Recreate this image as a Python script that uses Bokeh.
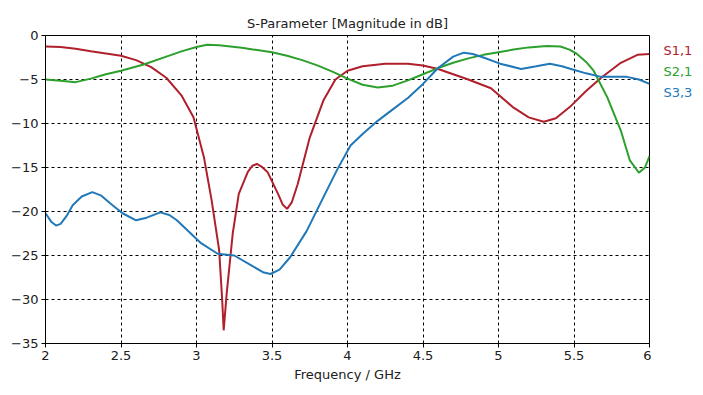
from bokeh.plotting import figure
from bokeh.models import FixedTicker, Range1d
from bokeh.layouts import row
from bokeh.core.properties import value
from bokeh.embed import file_html
from bokeh.resources import INLINE

title_text = "S-Parameter [Magnitude in dB]"
x_label = "Frequency / GHz"
x_ticks = [2, 2.5, 3, 3.5, 4, 4.5, 5, 5.5, 6]
x_tick_labels = ["2", "2.5", "3", "3.5", "4", "4.5", "5", "5.5", "6"]
y_ticks = [0, -5, -10, -15, -20, -25, -30, -35]

s11_f = [2.0, 2.1, 2.2, 2.3, 2.4, 2.5, 2.6, 2.7, 2.8, 2.9, 2.98, 3.05, 3.10, 3.15, 3.17, 3.18,
         3.20, 3.24, 3.28, 3.34, 3.37, 3.40, 3.43, 3.47, 3.54, 3.57, 3.60, 3.63, 3.67, 3.75,
         3.84, 3.92, 4.0, 4.1, 4.25, 4.4, 4.5, 4.6, 4.7, 4.8, 4.95, 5.1, 5.2, 5.30, 5.38,
         5.48, 5.58, 5.68, 5.81, 5.92, 6.0]
s11_db = [-1.25, -1.3, -1.5, -1.8, -2.05, -2.3, -2.8, -3.6, -4.8, -6.8, -9.3, -13.9, -18.7, -24.4,
          -30, -33.5, -29.3, -22.5, -18, -15.5, -14.8, -14.6, -14.9, -15.5, -18, -19.2, -19.7,
          -19.0, -16.9, -11.6, -7.4, -5.0, -4.0, -3.5, -3.2, -3.2, -3.4, -3.8, -4.4, -5.0,
          -6.0, -8.2, -9.3, -9.8, -9.4, -8.0, -6.3, -4.8, -3.1, -2.2, -2.1]

s21_f = [2.0, 2.1, 2.2, 2.3, 2.4, 2.5, 2.65, 2.8, 2.9, 3.0, 3.07, 3.15, 3.3, 3.5, 3.6, 3.7,
         3.8, 3.9, 4.0, 4.1, 4.2, 4.3, 4.4, 4.5, 4.6, 4.7, 4.8, 4.9, 5.0, 5.1, 5.2, 5.32,
         5.41, 5.47, 5.52, 5.58, 5.63, 5.72, 5.81, 5.87, 5.93, 5.97, 6.0]
s21_db = [-5.0, -5.15, -5.3, -4.9, -4.4, -4.0, -3.3, -2.4, -1.8, -1.3, -1.05, -1.1, -1.4, -1.9,
          -2.3, -2.8, -3.4, -4.1, -4.9, -5.6, -5.9, -5.7, -5.1, -4.4, -3.7, -3.1, -2.6, -2.2,
          -1.9, -1.6, -1.35, -1.2, -1.25, -1.6, -2.1, -3.0, -4.0, -7.0, -10.8, -14.2, -15.6,
          -15.0, -13.7]

s33_f = [2.0, 2.04, 2.07, 2.1, 2.14, 2.18, 2.24, 2.31, 2.37, 2.43, 2.51, 2.6, 2.67, 2.76, 2.82,
         2.87, 2.95, 3.03, 3.14, 3.25, 3.36, 3.44, 3.49, 3.55, 3.62, 3.73, 3.84, 3.93, 4.02,
         4.1, 4.2, 4.3, 4.4, 4.5, 4.6, 4.7, 4.77, 4.83, 4.9, 5.01, 5.15, 5.25, 5.34, 5.42,
         5.48, 5.58, 5.68, 5.78, 5.85, 5.93, 6.0]
s33_db = [-20.2, -21.2, -21.6, -21.4, -20.5, -19.3, -18.3, -17.8, -18.2, -19.1, -20.2, -21.0,
          -20.7, -20.1, -20.4, -21.0, -22.3, -23.6, -24.8, -25.0, -26.1, -26.9, -27.1, -26.6,
          -25.2, -22.2, -18.4, -15.3, -12.5, -11.2, -9.7, -8.4, -7.1, -5.5, -3.7, -2.4, -1.95,
          -2.1, -2.5, -3.2, -3.8, -3.5, -3.2, -3.5, -3.8, -4.3, -4.7, -4.7, -4.7, -5.0, -5.5]

series_names = ["S1,1", "S2,1", "S3,3"]
series_colors = ["#b0202c", "#2ca02c", "#2178b8"]
legend_y = [-1.7, -4.1, -6.5]

FONT = "DejaVu Sans"

p = figure(width=651, height=387, output_backend="svg", toolbar_location=None,
           x_range=Range1d(2, 6), y_range=Range1d(-35, 0),
           min_border_left=45, min_border_right=2, min_border_top=35, min_border_bottom=44,
           title=title_text)
p.background_fill_color = "white"
p.border_fill_color = "white"
p.outline_line_color = "black"
p.outline_line_width = 1

p.title.align = "center"
p.title.text_font = FONT
p.title.text_font_style = "normal"
p.title.text_font_size = "13px"
p.title.text_color = "#202020"

for ax in (p.xaxis[0], p.yaxis[0]):
    ax.axis_line_color = "black"
    ax.major_tick_line_color = "black"
    ax.major_tick_out = 4
    ax.major_tick_in = 0
    ax.minor_tick_line_color = None
    ax.major_label_text_font = FONT
    ax.major_label_text_font_size = "13px"
    ax.major_label_text_color = "#202020"
    ax.major_label_standoff = 3

p.xaxis.ticker = FixedTicker(ticks=x_ticks)
p.xaxis.major_label_overrides = {t: l for t, l in zip(x_ticks, x_tick_labels)}
p.yaxis.ticker = FixedTicker(ticks=y_ticks)
p.xaxis.axis_label = x_label
p.xaxis.axis_label_text_font = FONT
p.xaxis.axis_label_text_font_style = "normal"
p.xaxis.axis_label_text_font_size = "13px"
p.xaxis.axis_label_text_color = "#202020"
p.xaxis.axis_label_standoff = 4

for g in (p.xgrid[0], p.ygrid[0]):
    g.grid_line_color = "black"
    g.grid_line_dash = "3 3"
    g.grid_line_width = 1

p.line(s11_f, s11_db, line_color=series_colors[0], line_width=2)
p.line(s21_f, s21_db, line_color=series_colors[1], line_width=2)
p.line(s33_f, s33_db, line_color=series_colors[2], line_width=2)

# side panel with the series names
p2 = figure(width=44, height=387, output_backend="svg", toolbar_location=None,
            x_range=Range1d(0, 1), y_range=p.y_range,
            min_border_left=0, min_border_right=0, min_border_top=35, min_border_bottom=44,
            x_axis_location=None, y_axis_location=None)
p2.outline_line_color = None
p2.grid.visible = False
p2.background_fill_color = "white"
p2.border_fill_color = "white"
p2.text(x=[0.27] * len(series_names), y=legend_y, text=series_names,
        text_color=series_colors, text_font=value(FONT), text_font_size="13px",
        text_baseline="middle", text_align="left")

layout = row(p, p2)
open("out.html", "w").write(file_html(layout, INLINE))
